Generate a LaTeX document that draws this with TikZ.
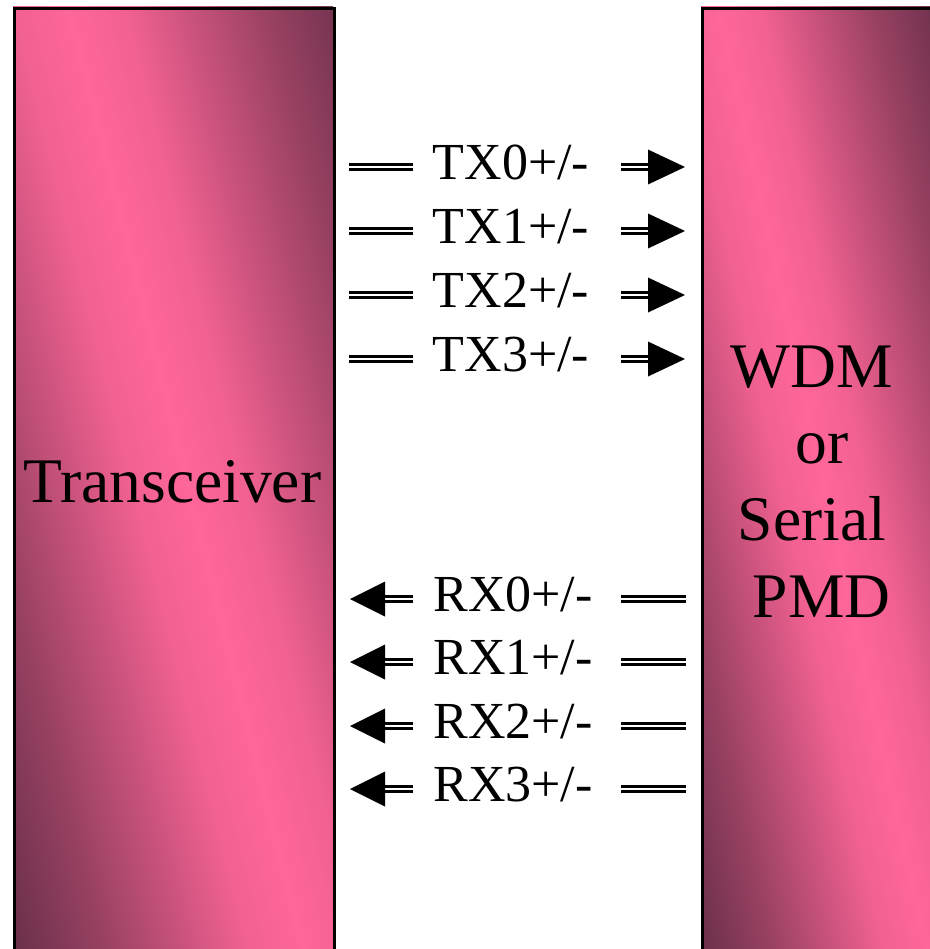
\documentclass[tikz,border=0pt]{standalone}
\usepackage{fontspec}
\setmainfont{Liberation Serif}
\definecolor{ppink}{RGB}{255,102,153}
\definecolor{pdark}{RGB}{106,48,74}
\pgfdeclarehorizontalshading{pinkband}{100bp}{color(0bp)=(pdark); color(25bp)=(pdark);
  color(32.5bp)=(ppink!30!pdark); color(40bp)=(ppink!66!pdark); color(45bp)=(ppink!90!pdark);
  color(50bp)=(ppink); color(55bp)=(ppink!90!pdark); color(60bp)=(ppink!66!pdark);
  color(67.5bp)=(ppink!30!pdark); color(75bp)=(pdark); color(100bp)=(pdark)}
\begin{document}
\begin{tikzpicture}[x=1pt,y=-1pt,
  boxframe/.style={draw=black,line width=2.6pt,inner sep=0pt,anchor=north west,minimum height=1000pt},
  dbl/.style={line width=2.7pt,double=white,double distance=2.3pt},
  lbl/.style={font=\fontsize{52}{60}\selectfont,anchor=base,inner sep=0pt},
  big/.style={font=\fontsize{63.5}{76}\selectfont,anchor=base,inner sep=0pt},
  boxshade/.style={shading=pinkband}]
\useasboundingbox (0,0) rectangle (929,949);
% left box
\begin{scope}
  \clip (13,7) rectangle (333,1000);
  \begin{scope}[transform canvas={rotate around={14:(186,478)}}]
    \shade[boxshade] (-94,-300) rectangle (466,1300);
  \end{scope}
\end{scope}
\node[boxframe,minimum width=320pt] (trx) at (13,7) {};
\node[big] (trxlbl) at (172.5,502.7) {Transceiver};
% right box
\begin{scope}
  \clip (701,7) rectangle (1000,1000);
  \begin{scope}[transform canvas={rotate around={12.5:(822,478)}}]
    \shade[boxshade] (602,-300) rectangle (1042,1300);
  \end{scope}
\end{scope}
\node[boxframe,minimum width=300pt] (pmd) at (701,7) {};
\node[big] (w1) at (812,387.3) {WDM};
\node[big] (w2) at (822,463) {or};
\node[big] (w3) at (812,540.7) {Serial};
\node[big] (w4) at (821.7,617) {PMD};
% TX rows
\foreach \i/\y in {0/167,1/231,2/295,3/359}{
  \node[lbl] (tx\i) at (511,\y+12.3) {TX\i+/-};
  \coordinate (txa\i) at (349,\y);
  \coordinate (txb\i) at (413,\y);
  \coordinate (txc\i) at (621,\y);
  \coordinate (txm\i) at (650,\y);
  \coordinate (txd\i) at (685,\y);
  \draw[dbl] (txa\i) -- (txb\i);
  \draw[dbl] (txc\i) -- (txm\i);
  \fill (txd\i) -- ++(-37,-17.5) -- ++(0,35) -- cycle;
}
% RX rows
\foreach \i/\y in {0/599,1/662,2/726,3/789}{
  \node[lbl] (rx\i) at (513,\y+12.5) {RX\i+/-};
  \coordinate (rxa\i) at (350,\y);
  \coordinate (rxm\i) at (383,\y);
  \coordinate (rxb\i) at (413,\y);
  \coordinate (rxc\i) at (621,\y);
  \coordinate (rxd\i) at (686,\y);
  \draw[dbl] (rxm\i) -- (rxb\i);
  \fill (rxa\i) -- ++(35,-17.5) -- ++(0,35) -- cycle;
  \draw[dbl] (rxc\i) -- (rxd\i);
}
\end{tikzpicture}
\end{document}
